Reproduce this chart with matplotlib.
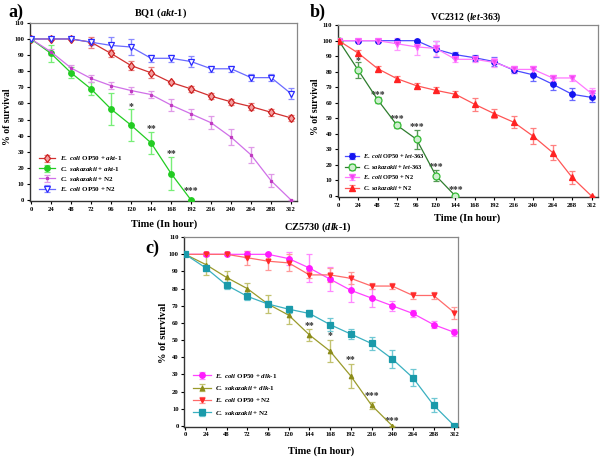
import matplotlib
matplotlib.use("Agg")
import matplotlib.pyplot as plt
import numpy as np

plt.rcParams['font.family'] = ['Liberation Serif', 'DejaVu Serif']
plt.rcParams['font.weight'] = 'bold'
plt.rcParams['mathtext.fontset'] = 'custom'
plt.rcParams['mathtext.rm'] = 'Liberation Serif:bold'
plt.rcParams['mathtext.it'] = 'Liberation Serif:italic:bold'
plt.rcParams['mathtext.bf'] = 'Liberation Serif:bold'

hours = [0, 24, 48, 72, 96, 120, 144, 168, 192, 216, 240, 264, 288, 312]
xticks = list(range(0, 313, 24))
yticks = list(range(0, 111, 10))

# ---- Panel a: BQ1 (akt-1)
a_ecoli_akt = [100, 100, 100, 98, 91, 83.5, 79, 73, 69, 64.5, 61, 58, 54.5, 51]
a_ecoli_akt_err = [0, 0, 0, 3.5, 2, 3, 3.5, 1, 2, 2, 2, 2, 2, 2]
a_csak_akt = [100, 91, 79, 69, 56.5, 46.5, 35.5, 16.5, 0]
a_csak_akt_err = [0, 5, 3.5, 4, 10, 10, 7, 10, 0]
a_csak_n2 = [100, 92, 82, 75.5, 71, 68, 65.5, 59, 53.5, 48, 39, 28, 12, 0]
a_csak_n2_err = [0, 2, 2, 2, 2, 2, 2, 4, 3, 4, 5, 5, 4, 0]
a_ecoli_n2 = [100, 100, 100, 98, 96, 95, 88, 88, 86, 81.5, 81.5, 76, 76, 66]
a_ecoli_n2_err = [0, 0, 0, 2, 5, 5, 2, 2, 3.5, 2, 2, 2, 2, 3.5]
a_stars = [(120, '*', 58), (144, '**', 44.5), (168, '**', 29), (192, '***', 6)]

# ---- Panel b: VC2312 (let-363)
b_ecoli_let = [100, 100, 100, 100, 100, 94.5, 91, 89, 86.5, 81, 78, 72, 65.5, 63.5]
b_ecoli_let_err = [0, 0, 0, 0, 0, 5, 2, 2, 3, 2, 4, 4, 4, 3]
b_csak_let = [100, 81, 62, 45.5, 36.5, 13, 0]
b_csak_let_err = [0, 5, 2, 2, 6, 3.5, 0]
b_ecoli_n2 = [100, 100, 100, 98, 96, 95, 88, 88, 86, 81.5, 81.5, 76, 76, 66]
b_ecoli_n2_err = [0, 0, 0, 4, 5, 5, 2, 2, 3, 2, 2, 2, 2, 3.5]
b_csak_n2 = [100, 92, 82, 75.5, 71, 68, 65.5, 59, 53, 47.5, 38.5, 28, 12, 0]
b_csak_n2_err = [0, 2, 2, 2, 2, 2, 2, 4, 3, 4, 5, 5, 4, 0]
b_stars = [(24, '*', 87.5), (48, '***', 65.5), (72, '***', 50), (96, '***', 45), (120, '***', 19), (144, '***', 4.5)]

# ---- Panel c: CZ5730 (dlk-1)
c_ecoli_dlk = [100, 100, 100, 100, 100, 97.5, 92, 85.5, 79, 74.5, 70, 65.5, 59, 54.5]
c_ecoli_dlk_err = [0, 0, 0, 2, 0, 4, 8, 7, 7, 5, 3, 2, 2, 2]
c_csak_dlk = [100, 94, 86.5, 80, 71, 64.5, 53, 43.5, 29, 12, 0]
c_csak_dlk_err = [0, 6, 3.5, 3, 5, 5, 3.5, 6.5, 7, 2, 0]
c_ecoli_n2 = [100, 100, 100, 98, 96, 95, 88, 88, 86, 81.5, 81.5, 76, 76, 66]
c_ecoli_n2_err = [0, 1, 0, 4, 5, 5, 2, 4, 3.5, 2, 2, 2, 2, 3.5]
c_csak_n2 = [100, 92, 82, 75.5, 71, 68, 65.5, 59, 53.5, 48, 39, 28, 12, 0]
c_csak_n2_err = [0, 2, 2, 2, 2, 2, 2, 4, 3, 4, 5, 5, 4, 0]
c_stars = [(144, '**', 58.5), (168, '*', 52.5), (192, '**', 38.5), (216, '***', 17.5), (240, '***', 3)]

fig = plt.figure(figsize=(6.0, 4.57), dpi=100)

ax_a = fig.add_axes([0.050, 0.560, 0.445, 0.390])
ax_b = fig.add_axes([0.563, 0.569, 0.433, 0.376])
ax_c = fig.add_axes([0.307, 0.066, 0.456, 0.415])


def series(ax, y, err, label, color, ecolor, marker, ms, mfc=None, mec=None, lc=None):
    x = hours[:len(y)]
    ax.errorbar(x, y, yerr=err, color=lc or color, ecolor=ecolor, elinewidth=1.0,
                capsize=2.2, capthick=1.0, lw=0.9, marker=marker, ms=ms,
                mfc=mfc or color, mec=mec or color, mew=0.9, label=label, zorder=3)


def style(ax, right):
    ax.set_xlim(-1.2, right)
    ax.set_ylim(-0.6, 110)
    ax.set_xticks(xticks)
    ax.set_yticks(yticks)
    ax.tick_params(labelsize=4.8, length=2.5, width=0.8, pad=1.5)
    for lab in ax.get_xticklabels() + ax.get_yticklabels():
        lab.set_fontweight('bold')
    for s in ['left', 'bottom']:
        ax.spines[s].set_color('#333333')
        ax.spines[s].set_linewidth(1.0)
    for s in ['top', 'right']:
        ax.spines[s].set_color('#888888')
        ax.spines[s].set_linewidth(0.9)


def stars(ax, lst):
    for x, s, y in lst:
        ax.text(x, y, s, ha='center', va='center', fontsize=7, color='#333333', fontweight='bold')


# Panel a
series(ax_a, a_ecoli_akt, a_ecoli_akt_err, r'$\mathit{E.\ coli}$ OP50 + $\mathit{akt}$-$\mathit{1}$',
       '#cc1f1f', '#e88080', 'd', 4.5, mfc='#f4a0a0', mec='#cc1f1f', lc='#d23030')
series(ax_a, a_csak_akt, a_csak_akt_err, r'$\mathit{C.\ sakazakii}$ + $\mathit{akt}$-$\mathit{1}$',
       '#22cc22', '#77ee77', 'o', 4)
series(ax_a, a_csak_n2, a_csak_n2_err, r'$\mathit{C.\ sakazakii}$ + N2',
       '#c03ac0', '#e09ae8', 's', 1.8, lc='#d070e8')
series(ax_a, a_ecoli_n2, a_ecoli_n2_err, r'$\mathit{E.\ coli}$ OP50 + N2',
       '#2a2aff', '#8a8aff', 'v', 5, mfc='white', mec='#2a2aff', lc='#6a6aff')
style(ax_a, 319)
stars(ax_a, a_stars)
ax_a.legend(loc='lower left', bbox_to_anchor=(0.02, 0.025), frameon=False, fontsize=5,
            handlelength=2.4, labelspacing=0.32, borderpad=0, handletextpad=0.6)

# Panel b
series(ax_b, b_ecoli_let, b_ecoli_let_err, r'$\mathit{E.\ coli}$ OP50 + $\mathit{let}$-$\mathit{363}$',
       '#1414f0', '#6a6aff', 'o', 4, lc='#4a4aff')
series(ax_b, b_csak_let, b_csak_let_err, r'$\mathit{C.\ sakazakii}$ + $\mathit{let}$-$\mathit{363}$',
       '#2e7d2e', '#559955', 'o', 5, mfc='#cfeecf', mec='#33bb33', lc='#2e7d2e')
series(ax_b, b_ecoli_n2, b_ecoli_n2_err, r'$\mathit{E.\ coli}$ OP50 + N2',
       '#ff55ff', '#ff99ff', 'v', 4.5, mfc='#ee44ee', mec='#ff66ff', lc='#ff77ff')
series(ax_b, b_csak_n2, b_csak_n2_err, r'$\mathit{C.\ sakazakii}$ + N2',
       '#ff2222', '#ff8080', '^', 4.5, lc='#ff5555')
style(ax_b, 319.5)
stars(ax_b, b_stars)
ax_b.legend(loc='lower left', bbox_to_anchor=(0.015, 0.01), frameon=False, fontsize=4.6,
            handlelength=2.2, labelspacing=0.4, borderpad=0, handletextpad=0.6)

# Panel c
series(ax_c, c_ecoli_dlk, c_ecoli_dlk_err, r'$\mathit{E.\ coli}$ OP50 + $\mathit{dlk}$-$\mathit{1}$',
       '#ff1aff', '#ff88ff', 'o', 4, lc='#ff44ff')
series(ax_c, c_csak_dlk, c_csak_dlk_err, r'$\mathit{C.\ sakazakii}$ + $\mathit{dlk}$-$\mathit{1}$',
       '#8c8c1a', '#c2c270', '^', 3.2, lc='#9a9a2a')
series(ax_c, c_ecoli_n2, c_ecoli_n2_err, r'$\mathit{E.\ coli}$ OP50 + N2',
       '#ff2a2a', '#ff9a9a', 'v', 3.5, lc='#ff6a6a')
series(ax_c, c_csak_n2, c_csak_n2_err, r'$\mathit{C.\ sakazakii}$ + N2',
       '#1a9aaa', '#70c8d4', 's', 4, lc='#3ab0c0')
style(ax_c, 316)
stars(ax_c, c_stars)
ax_c.legend(loc='lower left', bbox_to_anchor=(0.02, 0.035), frameon=False, fontsize=5,
            handlelength=2.6, labelspacing=0.62, borderpad=0, handletextpad=0.5)

W, H = 600.0, 457.0


def ftext(x, y, s, **kw):
    fig.text(x / W, 1 - y / H, s, ha='center', va='center', fontweight='bold', **kw)


ftext(16, 12, 'a)', fontsize=13)
ftext(318, 12, 'b)', fontsize=13)
ftext(152, 248, 'c)', fontsize=13)
ftext(161, 13, r'BQ1 ($\mathit{akt}$-$\mathit{1}$)', fontsize=7.5)
ftext(466, 17, r'VC2312 ($\mathit{let}$-$\mathit{363}$)', fontsize=7)
ftext(318, 227, r'CZ5730 ($\mathit{dlk}$-$\mathit{1}$)', fontsize=7.5)
ftext(164, 224, 'Time (In hour)', fontsize=7.5)
ftext(467, 218, 'Time (In hour)', fontsize=7.5)
ftext(321, 451, 'Time (In hour)', fontsize=7.5)
ftext(8, 117, '% of survival', fontsize=7, rotation=90)
ftext(315, 107, '% of survival', fontsize=7, rotation=90)
ftext(163, 333, '% of survival', fontsize=7.5, rotation=90)

fig.savefig('out.png', dpi=100)
